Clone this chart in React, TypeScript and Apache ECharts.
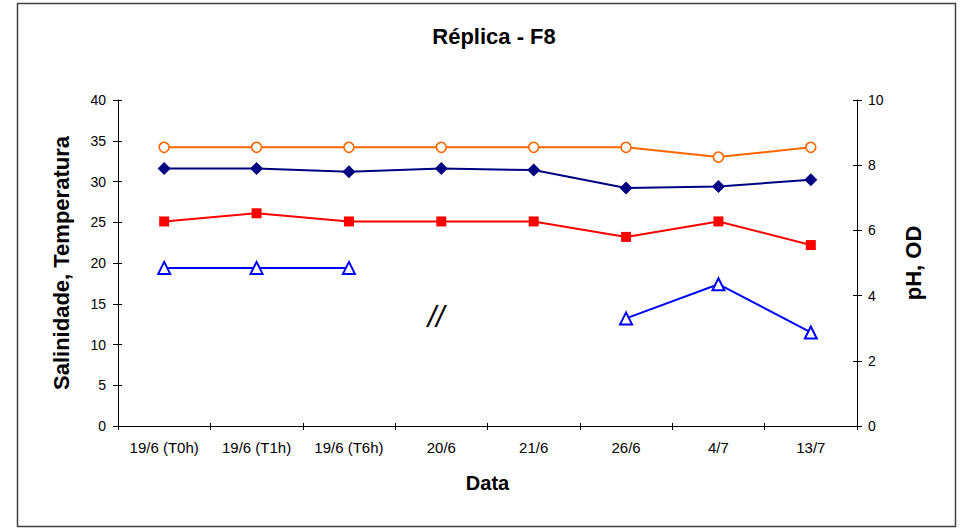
import React, { useEffect, useRef } from "react";
import * as echarts from "echarts";

const categories = ["19/6 (T0h)", "19/6 (T1h)", "19/6 (T6h)", "20/6", "21/6", "26/6", "4/7", "13/7"];
const salinidade = [34.2, 34.2, 34.2, 34.2, 34.2, 34.2, 33.0, 34.2];
const temperatura = [25.1, 26.1, 25.1, 25.1, 25.1, 23.2, 25.1, 22.2];
const ph = [7.9, 7.9, 7.8, 7.9, 7.85, 7.3, 7.35, 7.55];
const od = [4.85, 4.85, 4.85, null, null, 3.3, 4.35, 2.87];
const leftTicks = { min: 0, max: 40, interval: 5 };
const rightTicks = { min: 0, max: 10, interval: 2 };

const FONT = "'Liberation Sans', Arial, sans-serif";

export default function App() {
  const ref = useRef<HTMLDivElement>(null);
  useEffect(() => {
    if (!ref.current) return;
    const chart = echarts.init(ref.current, null, { renderer: "svg" });
    const axisLine = { show: true, lineStyle: { color: "#000", width: 1 } };
    const label = { color: "#000", fontSize: 14, fontFamily: FONT };
    const nameStyle = { color: "#000", fontSize: 20, fontWeight: "bold" as const, fontFamily: FONT };
    const yNameStyle = { ...nameStyle, fontSize: 22 };
    chart.setOption({
      animation: false,
      backgroundColor: "#fff",
      title: {
        text: "Réplica - F8",
        left: 489,
        top: 20,
        textAlign: "center",
        textStyle: { color: "#000", fontSize: 22, fontWeight: "bold", fontFamily: FONT },
      },
      grid: { left: 118, right: 104, top: 100, bottom: 102, containLabel: false },
      xAxis: [
        {
          type: "category",
          data: categories,
          boundaryGap: true,
          name: "Data",
          nameLocation: "middle",
          nameGap: 47,
          nameTextStyle: nameStyle,
          axisLine,
          axisTick: { show: true, length: 4, alignWithLabel: false, lineStyle: { color: "#000" } },
          axisLabel: { ...label, fontSize: 15, margin: 14, interval: 0 },
          splitLine: { show: false },
        },
        {
          type: "category",
          data: categories,
          boundaryGap: true,
          position: "bottom",
          axisLine: { show: false },
          axisTick: { show: true, inside: true, length: 3, lineStyle: { color: "#000" } },
          axisLabel: { show: false },
          splitLine: { show: false },
        },
      ],
      yAxis: [
        {
          type: "value",
          ...leftTicks,
          position: "left",
          name: "Salinidade, Temperatura",
          nameLocation: "middle",
          nameGap: 46,
          nameTextStyle: yNameStyle,
          axisLine,
          axisTick: { show: true, length: 5, lineStyle: { color: "#000" } },
          axisLabel: { ...label, margin: 12 },
          splitLine: { show: false },
        },
        {
          type: "value",
          ...rightTicks,
          position: "right",
          name: "pH, OD",
          nameLocation: "middle",
          nameGap: 45,
          nameTextStyle: yNameStyle,
          axisLine,
          axisTick: { show: true, length: 5, lineStyle: { color: "#000" } },
          axisLabel: { ...label, margin: 11 },
          splitLine: { show: false },
        },
        {
          type: "value",
          ...leftTicks,
          position: "left",
          axisLine: { show: false },
          axisTick: { show: true, inside: true, length: 4, lineStyle: { color: "#000" } },
          axisLabel: { show: false },
          splitLine: { show: false },
        },
        {
          type: "value",
          ...rightTicks,
          position: "right",
          axisLine: { show: false },
          axisTick: { show: true, inside: true, length: 4, lineStyle: { color: "#000" } },
          axisLabel: { show: false },
          splitLine: { show: false },
        },
      ],
      series: [
        {
          name: "Salinidade",
          type: "line",
          yAxisIndex: 0,
          data: salinidade,
          symbol: "circle",
          symbolSize: 10,
          lineStyle: { color: "#FF6600", width: 2 },
          itemStyle: { color: "#fff", borderColor: "#FF6600", borderWidth: 1.6 },
        },
        {
          name: "pH",
          type: "line",
          yAxisIndex: 1,
          data: ph,
          symbol: "diamond",
          symbolSize: 13,
          lineStyle: { color: "#000080", width: 2 },
          itemStyle: { color: "#000080" },
        },
        {
          name: "Temperatura",
          type: "line",
          yAxisIndex: 0,
          data: temperatura,
          symbol: "rect",
          symbolSize: 10,
          lineStyle: { color: "#FF0000", width: 2 },
          itemStyle: { color: "#FF0000" },
        },
        {
          name: "OD",
          type: "line",
          yAxisIndex: 1,
          data: od,
          connectNulls: false,
          symbol: "triangle",
          symbolSize: 12,
          lineStyle: { color: "#0000FF", width: 2 },
          itemStyle: { color: "#fff", borderColor: "#0000FF", borderWidth: 2 },
        },
      ],
      graphic: [
        {
          type: "rect",
          shape: { x: 17.5, y: 3.5, width: 938, height: 523 },
          style: { fill: "none", stroke: "#404040", lineWidth: 1.5 },
          silent: true,
          z: -1,
        },
        {
          type: "text",
          x: 436,
          y: 316,
          style: {
            text: "//",
            fontSize: 30,
            fontStyle: "italic",
            fontFamily: FONT,
            fill: "#000",
            align: "center",
            verticalAlign: "middle",
          },
        },
      ],
    });
    return () => chart.dispose();
  }, []);
  return <div ref={ref} style={{ position: "fixed", left: 0, top: 0, width: 961, height: 528 }} />;
}
